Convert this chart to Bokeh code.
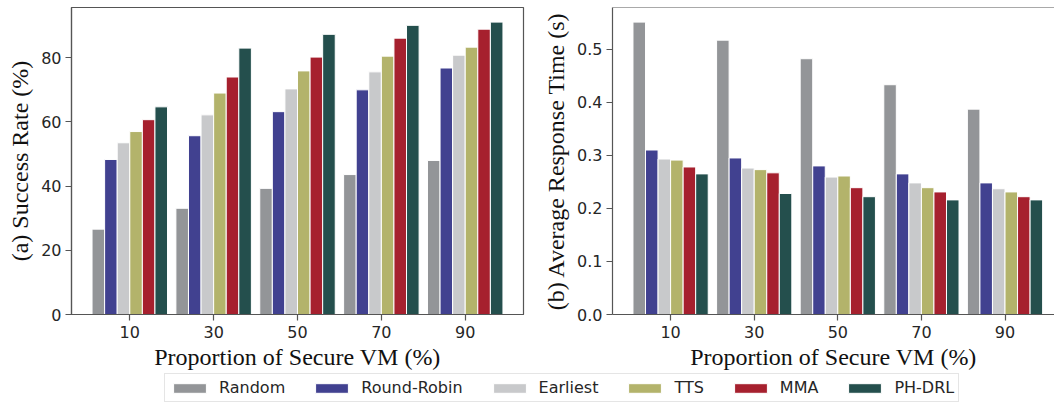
from bokeh.plotting import figure
from bokeh.models import (ColumnDataSource, Range1d, FixedTicker, PrintfTickFormatter,
                          Span, Legend, LegendItem)
from bokeh.transform import dodge
from bokeh.layouts import row, column
from bokeh.embed import file_html
from bokeh.resources import INLINE

# ---------------- data ----------------
categories = ["10", "30", "50", "70", "90"]
methods = ["Random", "Round-Robin", "Earliest", "TTS", "MMA", "PH-DRL"]
colors = ["#939598", "#414190", "#c8c9cb", "#b3b36b", "#a6202e", "#244f4d"]

success_random = [26.6, 33.1, 39.3, 43.6, 48.0]
success_rr = [48.3, 55.7, 63.2, 70.0, 76.8]
success_earliest = [53.5, 62.2, 70.3, 75.6, 80.8]
success_tts = [57.0, 69.0, 75.9, 80.5, 83.3]
success_mma = [60.7, 74.0, 80.2, 86.1, 88.9]
success_phdrl = [64.7, 83.0, 87.3, 90.1, 91.1]

resp_random = [0.551, 0.517, 0.482, 0.433, 0.387]
resp_rr = [0.310, 0.295, 0.280, 0.265, 0.248]
resp_earliest = [0.293, 0.276, 0.259, 0.248, 0.237]
resp_tts = [0.291, 0.273, 0.261, 0.239, 0.231]
resp_mma = [0.278, 0.267, 0.239, 0.231, 0.222]
resp_phdrl = [0.265, 0.228, 0.222, 0.216, 0.216]

success = [success_random, success_rr, success_earliest, success_tts, success_mma, success_phdrl]
resp = [resp_random, resp_rr, resp_earliest, resp_tts, resp_mma, resp_phdrl]

# ---------------- style ----------------
BAR_W = 0.15
offsets = [(-2.5 + i) * BAR_W for i in range(len(methods))]
SPINE = "#555555"
TICK_TXT = "#262626"
LABEL_FONT = "Liberation Serif"
TICK_FONT = "DejaVu Sans"
xs = list(range(len(categories)))


def style_axes(p, ylabel):
    for ax in (p.xaxis[0], p.yaxis[0]):
        ax.axis_line_color = SPINE
        ax.axis_line_width = 1.2
        ax.major_tick_line_color = SPINE
        ax.major_tick_line_width = 1.2
        ax.major_tick_out = 6
        ax.major_tick_in = 0
        ax.minor_tick_line_color = None
        ax.major_label_text_font = TICK_FONT
        ax.major_label_text_font_size = "16px"
        ax.major_label_text_color = TICK_TXT
        ax.axis_label_text_font = LABEL_FONT
        ax.axis_label_text_font_size = "24px"
        ax.axis_label_text_font_style = "normal"
        ax.axis_label_text_color = "#111111"
    p.xaxis[0].ticker = FixedTicker(ticks=xs)
    p.xaxis[0].major_label_overrides = {i: c for i, c in enumerate(categories)}
    p.xaxis[0].axis_label = "Proportion of Secure VM (%)"
    p.xaxis[0].major_label_standoff = 5
    p.xaxis[0].axis_label_standoff = 3
    p.yaxis[0].axis_label = ylabel
    p.yaxis[0].major_label_standoff = 4
    p.yaxis[0].axis_label_standoff = 5
    p.xgrid.grid_line_color = None
    p.ygrid.grid_line_color = None


def make_source(series):
    data = {"x": xs}
    for m, s in zip(methods, series):
        data[m] = s
    return ColumnDataSource(data)


def add_bars(p, src):
    rs = []
    for m, c, off in zip(methods, colors, offsets):
        rs.append(p.vbar(x=dodge("x", off), top=m, width=BAR_W, source=src,
                         fill_color=c, line_color="white", line_width=1))
    return rs


TOP = 7
FRAME_H = 308
ROW_H = 372

src1 = make_source(success)
src2 = make_source(resp)

# ---------------- left panel ----------------
ymax1 = max(max(s) for s in success) * 1.05
p1 = figure(width=535, height=ROW_H, output_backend="svg", toolbar_location=None,
            x_range=Range1d(-0.695, 4.695), y_range=Range1d(0, ymax1),
            min_border_left=71, min_border_right=12, min_border_top=TOP,
            min_border_bottom=ROW_H - FRAME_H - TOP)
p1.outline_line_color = SPINE
p1.outline_line_width = 1.2
p1.outline_line_alpha = 1
add_bars(p1, src1)
style_axes(p1, "(a) Success Rate (%)")
p1.yaxis[0].ticker = FixedTicker(ticks=[0, 20, 40, 60, 80])

# ---------------- right panel ----------------
ymax2 = max(max(s) for s in resp) * 1.05
p2 = figure(width=519, height=ROW_H, output_backend="svg", toolbar_location=None,
            x_range=Range1d(-0.695, 4.592), y_range=Range1d(0, ymax2),
            min_border_left=77, min_border_right=0, min_border_top=TOP,
            min_border_bottom=ROW_H - FRAME_H - TOP)
p2.outline_line_color = None
add_bars(p2, src2)
style_axes(p2, "(b) Average Response Time (s)")
p2.yaxis[0].ticker = FixedTicker(ticks=[0.0, 0.1, 0.2, 0.3, 0.4, 0.5])
p2.yaxis[0].formatter = PrintfTickFormatter(format="%.1f")
p2.add_layout(Span(location=ymax2, dimension="width", line_color=SPINE, line_width=1.2))

# ---------------- legend strip ----------------
# legend proxies reuse the real bars, squashed flat (huge y range) and hidden
# under the opaque legend box
pl = figure(width=1054, height=31, output_backend="svg", toolbar_location=None,
            x_range=Range1d(-3, 7), y_range=Range1d(0, 1e7),
            min_border_left=0, min_border_right=0, min_border_top=0, min_border_bottom=0)
pl.axis.visible = False
pl.xgrid.grid_line_color = None
pl.ygrid.grid_line_color = None
pl.outline_line_color = None
pl.border_fill_color = "white"
proxies = add_bars(pl, src1)
items = [LegendItem(label=m, renderers=[r]) for m, r in zip(methods, proxies)]
leg = Legend(items=items, orientation="horizontal", location=(164, 1),
             glyph_width=41, glyph_height=12, label_standoff=9, spacing=26,
             padding=4, margin=0, label_text_font=TICK_FONT, label_text_font_size="16px",
             label_text_color=TICK_TXT, label_height=18,
             border_line_color="#cccccc", border_line_width=1.2,
             background_fill_color="white", background_fill_alpha=1)
pl.add_layout(leg, "center")

layout = column(row(p1, p2), pl)

open("out.html", "w").write(file_html(layout, INLINE))
